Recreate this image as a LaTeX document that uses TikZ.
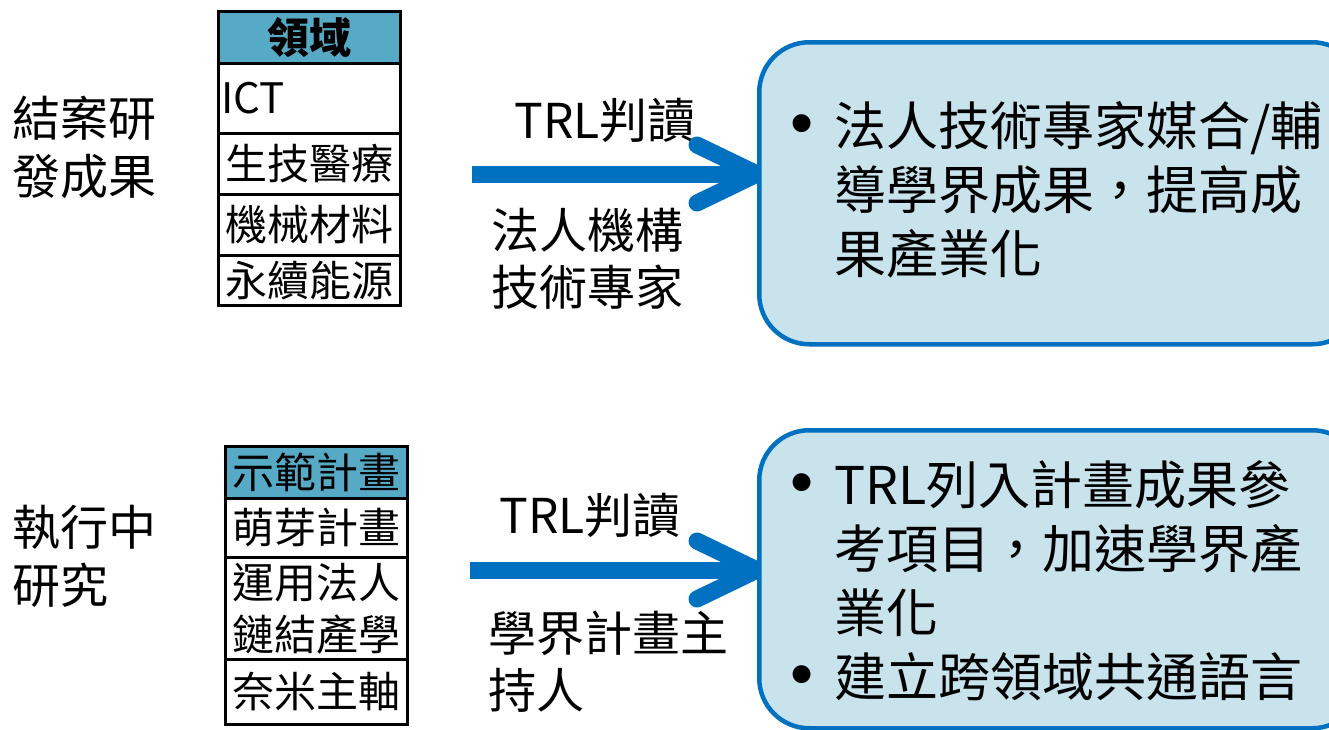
\documentclass[tikz,border=0pt]{standalone}
\usepackage{fontspec}
\setmainfont{Noto Sans CJK TC}
\newfontfamily\bulfont{Liberation Sans}
\usetikzlibrary{calc}
\definecolor{arrowblue}{RGB}{0,112,192}
\definecolor{boxfill}{RGB}{200,227,236}
\definecolor{headfill}{RGB}{87,170,198}
\newcommand{\bulitem}{\makebox[52pt][l]{\hspace*{8pt}{\bulfont\fontsize{66}{64}\selectfont •}}}
\newcommand{\bulcont}{\hspace*{52pt}}
\tikzset{
  cell/.style={draw=black, line width=2.5, minimum width=182, inner sep=0,
    anchor=north west, font=\fontsize{42}{52}\selectfont},
  headcell/.style={fill=headfill},
  sidelabel/.style={anchor=west, align=left, inner sep=0, font=\fontsize{48}{58}\selectfont},
  arrowlabel/.style={inner sep=0, align=left, font=\fontsize{48}{57}\selectfont},
  flowline/.style={draw=arrowblue, line width=17},
  chev/.style={draw=arrowblue, line width=17, line cap=round, line join=round},
  resbox/.style={draw=arrowblue, fill=boxfill, line width=4.5, rounded corners=50,
    minimum width=603, anchor=north west},
  boxtext/.style={anchor=west, align=left, inner sep=0, font=\fontsize{52}{64}\selectfont}
}
\begin{document}
\begin{tikzpicture}[x=1pt,y=-1pt]
\clip (0,0) rectangle (1329,729);
\fill[white] (0,0) rectangle (1329,729);

% left labels
\node[sidelabel] (lab1) at (12,147) {結案研\\發成果};
\node[sidelabel] (lab2) at (12,556) {執行中\\研究};

% top table
\node[cell, headcell, minimum height=52] (h1) at (217,10) {\bfseries 領域};
\node[cell, minimum height=70, text width=176, inner xsep=3, align=left] (r1) at (217,62) {ICT};
\node[cell, minimum height=61] (r2) at (217,132) {生技醫療};
\node[cell, minimum height=61] (r3) at (217,193) {機械材料};
\node[cell, minimum height=50] (r4) at (217,254) {永續能源};

% bottom table
\node[cell, headcell, minimum height=52] (g1) at (224,445) {示範計畫};
\node[cell, minimum height=59] (g2) at (224,497) {萌芽計畫};
\node[cell, minimum height=102, align=center] (g3) at (224,556) {運用法人\\鏈結產學};
\node[cell, minimum height=65] (g4) at (224,658) {奈米主軸};

% arrow labels
\node[arrowlabel] (al1) at (605,120) {TRL判讀};
\node[arrowlabel, anchor=west] (al2) at (491,259) {法人機構\\技術專家};
\node[arrowlabel] (al3) at (590,515) {TRL判讀};
\node[arrowlabel, anchor=west] (al4) at (488,662) {學界計畫主\\持人};

% start points of arrows
\coordinate (s1) at (472,174);
\coordinate (s2) at (470,570);

% result box corners
\coordinate (b1nw) at (757,40);
\coordinate (b2nw) at (757,428);

% arrows
\draw[flowline] (s1) -- (s1 -| b1nw);
\draw[chev] ($(s1 -| b1nw)+(-60,-29)$) -- (s1 -| b1nw) -- ($(s1 -| b1nw)+(-60,29)$);
\draw[flowline] (s2) -- (s2 -| b2nw);
\draw[chev] ($(s2 -| b2nw)+(-60,-29)$) -- (s2 -| b2nw) -- ($(s2 -| b2nw)+(-60,29)$);

% boxes
\node[resbox, minimum height=302] (b1) at (b1nw) {};
\node[resbox, minimum height=298] (b2) at (b2nw) {};

\node[boxtext] (t1) at (782,190) {\bulitem 法人技術專家媒合/輔\\\bulcont 導學界成果，提高成\\\bulcont 果產業化};
\node[boxtext] (t2) at (782,581) {\bulitem TRL列入計畫成果參\\\bulcont 考項目，加速學界產\\\bulcont 業化\\\bulitem 建立跨領域共通語言};
\end{tikzpicture}
\end{document}
